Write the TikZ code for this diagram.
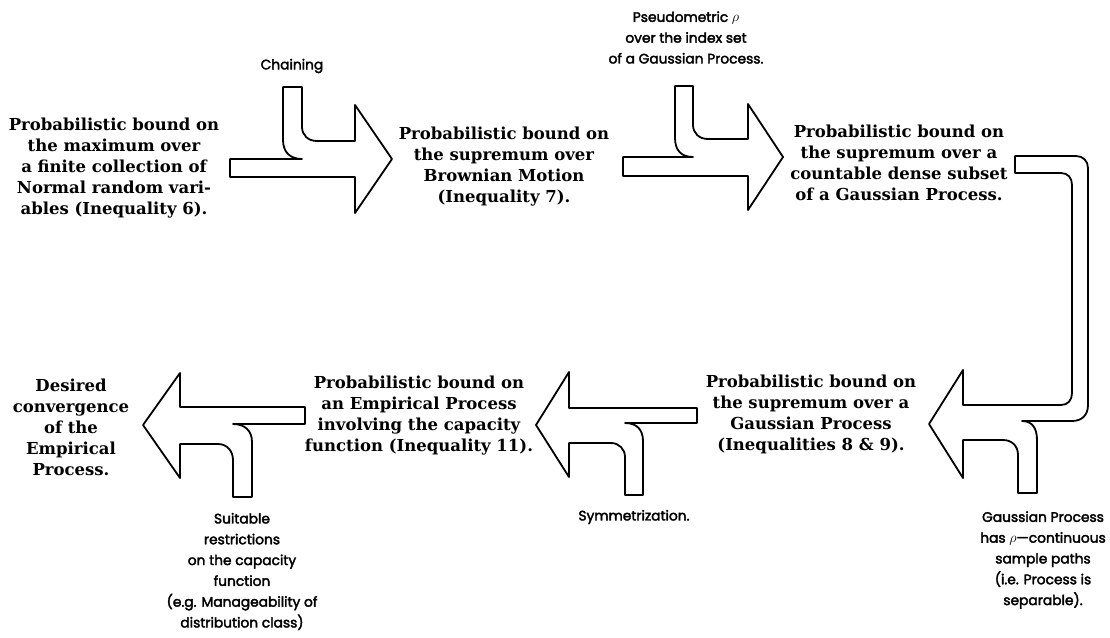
\documentclass[tikz,border=0pt]{standalone}
\usepackage{fontspec}
\newfontfamily\mainbf{DejaVu Serif}[BoldFont={* Bold}]
\newfontfamily\labfont{Poppins}[FakeBold=2.5]
\tikzset{
  blockarrow/.style={draw=black, line width=1.8pt, line join=round, fill=white},
  maintext/.style={align=center, inner sep=0pt, font=\mainbf\bfseries\fontsize{16.5}{21}\selectfont},
  labtext/.style={align=center, inner sep=0pt, font=\labfont\fontsize{13.8}{20.8}\selectfont}
}
\begin{document}
\begin{tikzpicture}[x=1pt,y=-1pt]
\useasboundingbox (0,0) rectangle (1110,637);
% arrow A (top left)
\draw[blockarrow] (230,159) -- (302,159) .. controls (290,159) and (283,152) .. (283,140) -- (283,87) -- (302,87) -- (302,127) .. controls (302,135) and (308,141) .. (317,141) -- (355,141) -- (355,105) -- (392,159) -- (355,213) -- (355,177) -- (230,177) -- cycle;
% arrow B (top middle)
\draw[blockarrow] (623,157) -- (693,157) .. controls (681,157) and (675,150) .. (675,138) -- (675,86) -- (693,86) -- (693,125) .. controls (693,133) and (699,139) .. (708,139) -- (748,139) -- (748,104) -- (783,157) -- (748,210) -- (748,176) -- (623,176) -- cycle;
% arrow C (right U)
\draw[blockarrow] (1015,156) -- (1076,156) .. controls (1083,156) and (1088,161) .. (1088,168) -- (1088,405) .. controls (1088,415) and (1082,421) .. (1072,421) -- (1022,421) .. controls (1032,421) and (1037,428) .. (1037,440) -- (1037,493) -- (1018,493) -- (1018,455) .. controls (1018,446) and (1012,440) .. (1003,440) -- (963,440) -- (963,478) -- (929,424) -- (963,370) -- (963,405) -- (1061,405) .. controls (1068,405) and (1072,400) .. (1072,393) -- (1072,185) .. controls (1072,178) and (1068,173) .. (1061,173) -- (1015,173) -- cycle;
% arrow D (bottom middle)
\draw[blockarrow] (697,408) -- (697,423) -- (625,423) .. controls (637,423) and (643,430) .. (643,441) -- (643,495) -- (625,495) -- (625,457) .. controls (625,449) and (619,443) .. (611,443) -- (569,443) -- (569,477) -- (536,425) -- (569,372) -- (569,408) -- cycle;
% arrow E (bottom left)
\draw[blockarrow] (305,407) -- (305,424) -- (233,424) .. controls (245,424) and (252,431) .. (252,442) -- (252,497) -- (233,497) -- (233,460) .. controls (233,451) and (227,444) .. (218,444) -- (180,444) -- (180,478) -- (143,425) -- (180,373) -- (180,407) -- cycle;
% main texts
\node[maintext] (t1) at (114,168.5) {Probabilistic bound on\\the maximum over\\a finite collection of\\Normal random vari-\\ables (Inequality 6).};
\node[maintext] (t2) at (504,167) {Probabilistic bound on\\the supremum over\\Brownian Motion\\(Inequality 7).};
\node[maintext] (t3) at (899,163) {Probabilistic bound on\\the supremum over a\\countable dense subset\\of a Gaussian Process.};
\node[maintext] (t4) at (811,414) {Probabilistic bound on\\the supremum over a\\Gaussian Process\\(Inequalities 8 \& 9).};
\node[maintext] (t5) at (419,415.5) {Probabilistic bound on\\an Empirical Process\\involving the capacity\\function (Inequality 11).};
\node[maintext] (t6) at (71,427.5) {Desired\\convergence\\of the\\Empirical\\Process.};
% labels
\node[labtext] (l1) at (292,66) {Chaining};
\node[labtext] (l2) at (686,37.5) {Pseudometric $\rho$\\over the index set\\of a Gaussian Process.};
\node[labtext] (l3) at (1043,560) {Gaussian Process\\has $\rho$—continuous\\sample paths\\(i.e. Process is\\separable).};
\node[labtext] (l4) at (634,517) {Symmetrization.};
\node[labtext] (l5) at (242,571.5) {Suitable\\restrictions\\on the capacity\\function\\(e.g. Manageability of\\distribution class)};
\end{tikzpicture}
\end{document}
